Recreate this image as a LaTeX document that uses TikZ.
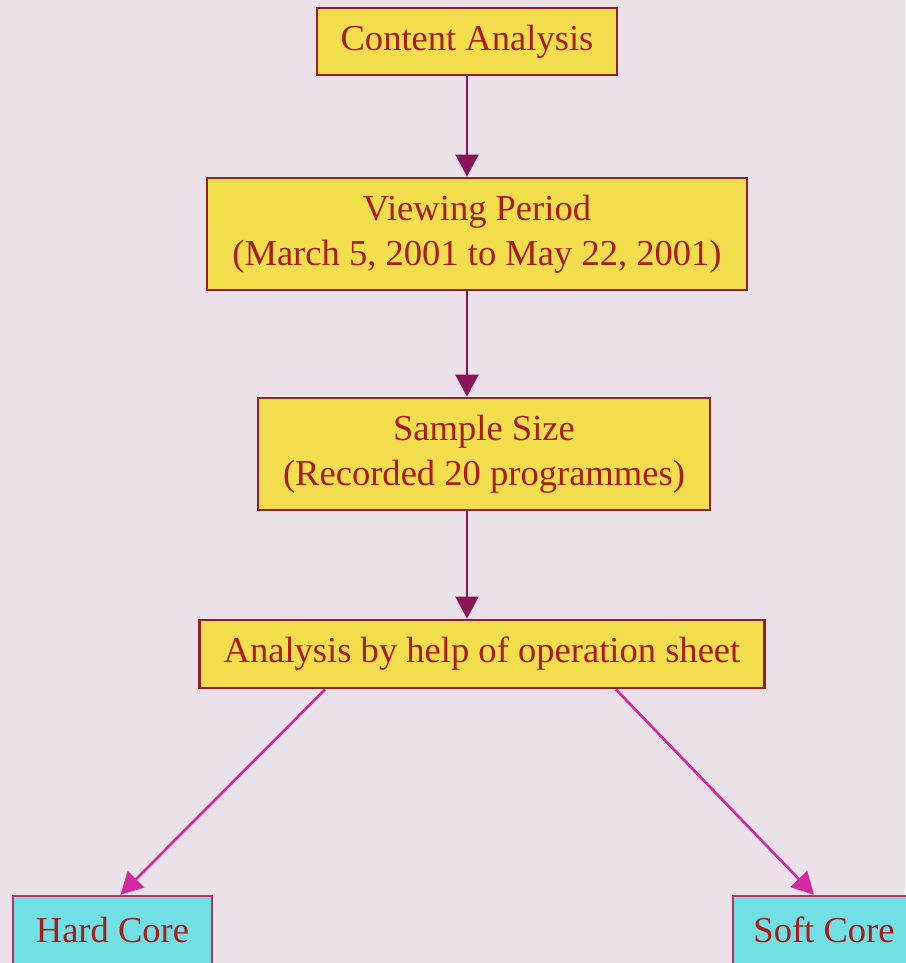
\documentclass[tikz,border=0pt]{standalone}
\usepackage{fontspec}
\setmainfont{Liberation Serif}
\usetikzlibrary{positioning,arrows.meta,calc}
\definecolor{PageTint}{RGB}{234,226,232}
\definecolor{BoxYellow}{RGB}{243,222,78}
\definecolor{BoxEdge}{RGB}{150,30,40}
\definecolor{TextRed}{RGB}{170,28,24}
\definecolor{CoreCyan}{RGB}{112,224,228}
\definecolor{CoreEdge}{RGB}{190,50,95}
\definecolor{StemPlum}{RGB}{140,20,90}
\definecolor{BranchPink}{RGB}{210,40,160}

\begin{document}
\begin{tikzpicture}[font=\fontsize{10.4}{12.8}\selectfont, every node/.style={align=center},
  stage/.style={draw=BoxEdge, line width=0.8pt, fill=BoxYellow, text=TextRed, inner sep=0pt},
  core/.style={draw=CoreEdge, line width=0.7pt, fill=CoreCyan, text=TextRed, inner sep=0pt,
               minimum height=0.68cm},
  stem/.style={-{Triangle[width=2.3mm,length=2.2mm]}, StemPlum, line width=0.75pt},
  branch/.style={-{Triangle[width=2.3mm,length=2.2mm]}, BranchPink, line width=0.75pt}]
  \fill[PageTint] (0,0) rectangle (9.05,-9.63);
  \useasboundingbox (0,0) rectangle (9.05,-9.63);

  \node[stage, minimum width=3.0cm, minimum height=0.67cm] (ca) at (4.67,-0.415) {Content Analysis};
  \node[stage, minimum width=5.4cm, minimum height=1.12cm] (vp) at (4.77,-2.34)
       {Viewing Period\\(March 5, 2001 to May 22, 2001)};
  \node[stage, minimum width=4.52cm, minimum height=1.12cm] (ss) at (4.84,-4.54)
       {Sample Size\\(Recorded 20 programmes)};
  \node[stage, minimum width=5.65cm, minimum height=0.68cm] (an) at (4.82,-6.54)
       {Analysis by help of operation sheet};
  \node[core, minimum width=1.99cm] (hc) at (1.125,-9.30) {Hard Core};
  \node[core, minimum width=1.82cm] (sc) at (8.24,-9.30) {Soft Core};

  \draw[stem] (ca.south) -- (ca.south |- vp.north);
  \draw[stem] (vp.south -| ca.south) -- (ss.north -| ca.south);
  \draw[stem] (ss.south -| ca.south) -- (an.north -| ca.south);
  \draw[branch] ([xshift=1.27cm]an.south west) -- ([xshift=0.08cm]hc.north);
  \draw[branch] ([xshift=-1.50cm]an.south east) -- ([xshift=-0.1cm]sc.north);
\end{tikzpicture}
\end{document}
